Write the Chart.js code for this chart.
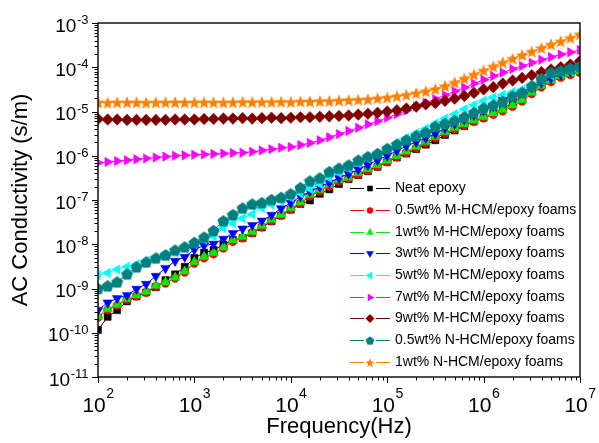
<!DOCTYPE html>
<html>
<head>
<meta charset="utf-8">
<script src="https://cdn.jsdelivr.net/npm/chart.js@4.4.1/dist/chart.umd.min.js"></script>
<style>
  html, body { margin: 0; padding: 0; background: #fff; }
  #wrap { position: relative; width: 599px; height: 443px; }
</style>
</head>
<body>
<div id="wrap"><canvas id="chart"></canvas></div>
<script>
// frequency (Hz), 10 points per decade
const freq = [
  1e2, 1.26e2, 1.58e2, 2e2, 2.51e2, 3.16e2, 3.98e2, 5.01e2, 6.31e2, 7.94e2,
  1e3, 1.26e3, 1.58e3, 2e3, 2.51e3, 3.16e3, 3.98e3, 5.01e3, 6.31e3, 7.94e3,
  1e4, 1.26e4, 1.58e4, 2e4, 2.51e4, 3.16e4, 3.98e4, 5.01e4, 6.31e4, 7.94e4,
  1e5, 1.26e5, 1.58e5, 2e5, 2.51e5, 3.16e5, 3.98e5, 5.01e5, 6.31e5, 7.94e5,
  1e6, 1.26e6, 1.58e6, 2e6, 2.51e6, 3.16e6, 3.98e6, 5.01e6, 6.31e6, 7.94e6,
  1e7
];

// AC conductivity (s/m)
const neatEpoxy = [
  1.15e-10, 2.29e-10, 3.24e-10, 5.13e-10, 6.61e-10, 8.13e-10, 1.07e-9, 1.55e-9, 2.09e-9, 3.09e-9,
  4.90e-9, 6.46e-9, 7.41e-9, 9.77e-9, 1.26e-8, 1.38e-8, 1.78e-8, 2.40e-8, 3.31e-8, 4.47e-8,
  6.03e-8, 8.13e-8, 9.77e-8, 1.38e-7, 1.74e-7, 2.29e-7, 2.95e-7, 3.63e-7, 4.47e-7, 5.62e-7,
  7.24e-7, 9.12e-7, 1.12e-6, 1.41e-6, 1.78e-6, 2.24e-6, 2.95e-6, 3.72e-6, 4.68e-6, 6.03e-6,
  7.24e-6, 9.12e-6, 1.17e-5, 1.55e-5, 2.14e-5, 2.95e-5, 3.89e-5, 5.01e-5, 6.31e-5, 7.08e-5,
  7.94e-5
];
const mHcm05 = [
  2.24e-10, 3.31e-10, 4.17e-10, 5.62e-10, 6.76e-10, 8.13e-10, 1.12e-9, 1.32e-9, 1.70e-9, 2.34e-9,
  3.72e-9, 4.90e-9, 6.03e-9, 8.13e-9, 1.15e-8, 1.38e-8, 1.82e-8, 2.45e-8, 3.39e-8, 4.47e-8,
  6.17e-8, 8.32e-8, 1.23e-7, 1.58e-7, 2.04e-7, 2.63e-7, 3.09e-7, 3.80e-7, 4.68e-7, 5.75e-7,
  7.24e-7, 9.33e-7, 1.17e-6, 1.51e-6, 1.95e-6, 2.51e-6, 3.24e-6, 3.98e-6, 4.90e-6, 5.89e-6,
  7.08e-6, 8.51e-6, 1.02e-5, 1.29e-5, 1.70e-5, 2.51e-5, 3.55e-5, 4.68e-5, 5.89e-5, 6.76e-5,
  7.59e-5
];
const mHcm1 = [
  2.34e-10, 3.47e-10, 4.37e-10, 5.89e-10, 7.08e-10, 8.51e-10, 1.17e-9, 1.38e-9, 1.78e-9, 2.45e-9,
  3.98e-9, 5.25e-9, 6.46e-9, 8.51e-9, 1.23e-8, 1.48e-8, 1.91e-8, 2.63e-8, 3.63e-8, 4.68e-8,
  6.61e-8, 8.91e-8, 1.32e-7, 1.70e-7, 2.19e-7, 2.82e-7, 3.24e-7, 4.07e-7, 5.01e-7, 6.17e-7,
  7.76e-7, 1.00e-6, 1.26e-6, 1.62e-6, 2.09e-6, 2.69e-6, 3.47e-6, 4.27e-6, 5.25e-6, 6.31e-6,
  7.59e-6, 9.12e-6, 1.10e-5, 1.38e-5, 1.82e-5, 2.69e-5, 3.80e-5, 5.01e-5, 6.31e-5, 7.24e-5,
  8.13e-5
];
const mHcm3 = [
  3.24e-10, 4.79e-10, 6.03e-10, 7.08e-10, 9.77e-10, 1.26e-9, 1.91e-9, 2.88e-9, 4.17e-9, 5.13e-9,
  7.59e-9, 9.33e-9, 1.02e-8, 1.32e-8, 1.78e-8, 2.24e-8, 2.69e-8, 3.39e-8, 4.57e-8, 6.46e-8,
  8.51e-8, 1.20e-7, 1.55e-7, 2.00e-7, 2.45e-7, 3.16e-7, 3.89e-7, 4.90e-7, 6.17e-7, 7.94e-7,
  1.00e-6, 1.29e-6, 1.66e-6, 2.04e-6, 2.51e-6, 3.16e-6, 4.17e-6, 5.25e-6, 6.61e-6, 8.32e-6,
  1.05e-5, 1.32e-5, 1.82e-5, 2.29e-5, 2.75e-5, 3.47e-5, 4.47e-5, 5.62e-5, 6.92e-5, 7.94e-5,
  8.91e-5
];
const mHcm5 = [
  2.00e-9, 2.24e-9, 2.69e-9, 3.09e-9, 3.55e-9, 4.17e-9, 4.90e-9, 5.75e-9, 6.76e-9, 8.32e-9,
  1.00e-8, 1.26e-8, 1.51e-8, 2.34e-8, 3.02e-8, 3.89e-8, 4.79e-8, 6.61e-8, 7.94e-8, 9.55e-8,
  1.15e-7, 1.41e-7, 1.78e-7, 2.29e-7, 3.16e-7, 4.07e-7, 5.13e-7, 6.76e-7, 8.71e-7, 1.10e-6,
  1.41e-6, 1.95e-6, 2.51e-6, 3.24e-6, 4.07e-6, 5.37e-6, 6.92e-6, 8.71e-6, 1.12e-5, 1.41e-5,
  1.74e-5, 2.09e-5, 2.40e-5, 2.75e-5, 3.16e-5, 3.80e-5, 5.01e-5, 6.61e-5, 7.59e-5, 8.32e-5,
  8.91e-5
];
const mHcm7 = [
  6.92e-7, 7.24e-7, 7.59e-7, 7.94e-7, 8.32e-7, 8.71e-7, 9.12e-7, 9.55e-7, 1.00e-6, 1.02e-6,
  1.05e-6, 1.07e-6, 1.10e-6, 1.12e-6, 1.15e-6, 1.17e-6, 1.23e-6, 1.32e-6, 1.41e-6, 1.51e-6,
  1.58e-6, 1.74e-6, 1.95e-6, 2.24e-6, 2.63e-6, 3.09e-6, 3.63e-6, 4.27e-6, 5.13e-6, 6.03e-6,
  7.24e-6, 8.71e-6, 1.05e-5, 1.29e-5, 1.58e-5, 1.91e-5, 2.34e-5, 2.88e-5, 3.47e-5, 4.27e-5,
  5.25e-5, 6.31e-5, 7.59e-5, 9.12e-5, 1.07e-4, 1.26e-4, 1.48e-4, 1.70e-4, 1.95e-4, 2.19e-4,
  2.45e-4
];
const mHcm9 = [
  6.76e-6, 6.61e-6, 6.61e-6, 6.46e-6, 6.46e-6, 6.46e-6, 6.46e-6, 6.46e-6, 6.61e-6, 6.61e-6,
  6.61e-6, 6.76e-6, 6.76e-6, 6.92e-6, 6.92e-6, 7.08e-6, 6.92e-6, 7.08e-6, 7.24e-6, 7.08e-6,
  7.24e-6, 7.41e-6, 7.41e-6, 7.59e-6, 7.76e-6, 7.94e-6, 8.13e-6, 8.51e-6, 8.91e-6, 9.33e-6,
  1.00e-5, 1.07e-5, 1.17e-5, 1.29e-5, 1.45e-5, 1.55e-5, 1.74e-5, 1.95e-5, 2.24e-5, 2.63e-5,
  3.16e-5, 3.55e-5, 4.27e-5, 5.01e-5, 5.75e-5, 6.61e-5, 7.76e-5, 8.91e-5, 1.00e-4, 1.15e-4,
  1.38e-4
];
const nHcm05 = [
  1.00e-9, 1.15e-9, 1.41e-9, 2.14e-9, 3.09e-9, 3.98e-9, 4.90e-9, 5.75e-9, 7.41e-9, 8.71e-9,
  1.10e-8, 1.45e-8, 2.04e-8, 3.39e-8, 4.68e-8, 6.61e-8, 8.13e-8, 8.71e-8, 1.02e-7, 1.15e-7,
  1.38e-7, 1.91e-7, 2.69e-7, 3.16e-7, 4.37e-7, 5.25e-7, 6.17e-7, 7.94e-7, 9.55e-7, 1.12e-6,
  1.45e-6, 1.82e-6, 2.29e-6, 2.82e-6, 3.39e-6, 4.57e-6, 5.37e-6, 6.31e-6, 7.59e-6, 9.55e-6,
  1.20e-5, 1.41e-5, 1.70e-5, 2.24e-5, 2.69e-5, 3.80e-5, 5.50e-5, 7.59e-5, 8.32e-5, 9.55e-5,
  1.05e-4
];
const nHcm1 = [
  1.62e-5, 1.60e-5, 1.62e-5, 1.63e-5, 1.62e-5, 1.60e-5, 1.62e-5, 1.62e-5, 1.63e-5, 1.62e-5,
  1.62e-5, 1.63e-5, 1.62e-5, 1.62e-5, 1.63e-5, 1.66e-5, 1.65e-5, 1.66e-5, 1.66e-5, 1.67e-5,
  1.66e-5, 1.70e-5, 1.70e-5, 1.74e-5, 1.74e-5, 1.78e-5, 1.82e-5, 1.86e-5, 1.91e-5, 2.00e-5,
  2.09e-5, 2.24e-5, 2.40e-5, 2.63e-5, 2.88e-5, 3.24e-5, 3.80e-5, 4.57e-5, 5.62e-5, 6.92e-5,
  8.51e-5, 1.05e-4, 1.29e-4, 1.58e-4, 1.91e-4, 2.29e-4, 2.75e-4, 3.31e-4, 3.89e-4, 4.68e-4,
  5.62e-4
];

const seriesLabels = [
  'Neat epoxy',
  '0.5wt% M-HCM/epoxy foams',
  '1wt% M-HCM/epoxy foams',
  '3wt% M-HCM/epoxy foams',
  '5wt% M-HCM/epoxy foams',
  '7wt% M-HCM/epoxy foams',
  '9wt% M-HCM/epoxy foams',
  '0.5wt% N-HCM/epoxy foams',
  '1wt% N-HCM/epoxy foams'
];
const seriesValues = [neatEpoxy, mHcm05, mHcm1, mHcm3, mHcm5, mHcm7, mHcm9, nHcm05, nHcm1];

// tick decades (exponents) and minor steps
const xDecades = [2, 3, 4, 5, 6, 7];
const yDecades = [-11, -10, -9, -8, -7, -6, -5, -4, -3];
const minorSteps = [2, 3, 4, 5, 6, 7, 8, 9];

const FONT = "'Liberation Sans', Arial, sans-serif";
const colors = ['#000000', '#ff0000', '#00ee00', '#0000ff', '#00ffff', '#ff00ff', '#800000', '#008080', '#ff8000'];

function shapeCanvas(size, color, pts) {
  const c = document.createElement('canvas');
  c.width = size; c.height = size;
  const g = c.getContext('2d');
  g.fillStyle = color;
  g.beginPath();
  pts.forEach(([px, py], k) => k ? g.lineTo(px, py) : g.moveTo(px, py));
  g.closePath();
  g.fill();
  return c;
}
function pentagon(color) {
  const s = 13, r = 6.3, pts = [];
  for (let k = 0; k < 5; k++) {
    const a = -Math.PI / 2 + k * 2 * Math.PI / 5;
    pts.push([s / 2 + r * Math.cos(a), s / 2 + 0.6 + r * Math.sin(a)]);
  }
  return shapeCanvas(s, color, pts);
}
function star(color) {
  const s = 14, ro = 6.8, ri = 2.9, pts = [];
  for (let k = 0; k < 10; k++) {
    const a = -Math.PI / 2 + k * Math.PI / 5;
    const r = k % 2 ? ri : ro;
    pts.push([s / 2 + r * Math.cos(a), s / 2 + 0.8 + r * Math.sin(a)]);
  }
  return shapeCanvas(s, color, pts);
}

const markers = [
  { style: 'rect', radius: 5, rotation: 0 },
  { style: 'circle', radius: 4.2, rotation: 0 },
  { style: 'triangle', radius: 5.5, rotation: 0 },
  { style: 'triangle', radius: 5.5, rotation: 180 },
  { style: 'triangle', radius: 5.5, rotation: 270 },
  { style: 'triangle', radius: 5.5, rotation: 90 },
  { style: 'rectRot', radius: 5.8, rotation: 0 },
  { style: pentagon(colors[7]), radius: 6, rotation: 0 },
  { style: star(colors[8]), radius: 6, rotation: 0 }
];

const datasets = seriesValues.map((vals, i) => ({
  label: seriesLabels[i],
  data: vals.map((v, k) => ({ x: freq[k], y: v })),
  borderColor: colors[i],
  backgroundColor: colors[i],
  borderWidth: 1,
  pointStyle: markers[i].style,
  pointRadius: markers[i].radius,
  pointRotation: markers[i].rotation,
  pointBackgroundColor: colors[i],
  pointBorderColor: colors[i],
  pointBorderWidth: 0.5,
  order: seriesValues.length - i,
  clip: 0
}));

function drawPow(ctx, exp, x, yBase, yExp, baseSize, expSize, align) {
  ctx.font = `${baseSize}px ${FONT}`;
  const wb = ctx.measureText('10').width;
  ctx.font = `${expSize}px ${FONT}`;
  const we = ctx.measureText(String(exp)).width;
  const start = align === 'right' ? x - wb - we : x - (wb + we) / 2;
  ctx.textAlign = 'left';
  ctx.textBaseline = 'alphabetic';
  ctx.font = `${baseSize}px ${FONT}`;
  ctx.fillText('10', start, yBase);
  ctx.font = `${expSize}px ${FONT}`;
  ctx.fillText(String(exp), start + wb + 0.5, yExp);
}

const axisDecor = {
  id: 'axisDecor',
  afterDatasetsDraw(chart) {
    const { ctx, chartArea: a, scales: { x, y } } = chart;
    ctx.save();
    ctx.strokeStyle = '#000';
    ctx.fillStyle = '#000';
    ctx.lineWidth = 1.4;
    ctx.strokeRect(a.left, a.top, a.right - a.left, a.bottom - a.top);
    ctx.lineWidth = 1;
    ctx.beginPath();
    xDecades.forEach((e, k) => {
      const px = Math.round(x.getPixelForValue(Math.pow(10, e))) + 0.5;
      ctx.moveTo(px, a.bottom); ctx.lineTo(px, a.bottom + 6);
      if (k < xDecades.length - 1) minorSteps.forEach(m => {
        const mx = Math.round(x.getPixelForValue(m * Math.pow(10, e))) + 0.5;
        ctx.moveTo(mx, a.bottom); ctx.lineTo(mx, a.bottom + 3.5);
      });
    });
    yDecades.forEach((e, k) => {
      const py = Math.round(y.getPixelForValue(Math.pow(10, e))) + 0.5;
      ctx.moveTo(a.left, py); ctx.lineTo(a.left - 6, py);
      if (k < yDecades.length - 1) minorSteps.forEach(m => {
        const my = Math.round(y.getPixelForValue(m * Math.pow(10, e))) + 0.5;
        ctx.moveTo(a.left, my); ctx.lineTo(a.left - 3.5, my);
      });
    });
    ctx.stroke();

    xDecades.forEach(e => {
      const px = x.getPixelForValue(Math.pow(10, e));
      drawPow(ctx, e, px, a.bottom + 35, a.bottom + 21, 21, 14, 'center');
    });
    yDecades.forEach(e => {
      const py = y.getPixelForValue(Math.pow(10, e));
      drawPow(ctx, e, a.left - 10, py + 8.5, py + 1, 19, 13, 'right');
    });
    ctx.restore();
  }
};

// legend drawn inside the plot, lines broken around a smaller marker
const legendBox = {
  id: 'legendBox',
  afterDraw(chart) {
    const { ctx } = chart;
    const x0 = 350, y0 = 188.3, dy = 21.67, k = 0.72;
    ctx.save();
    chart.data.datasets.forEach((ds, i) => {
      const yy = Math.round(y0 + i * dy) + 0.5;
      ctx.strokeStyle = ds.borderColor;
      ctx.lineWidth = 1;
      ctx.beginPath();
      ctx.moveTo(x0, yy); ctx.lineTo(x0 + 14, yy);
      ctx.moveTo(x0 + 26, yy); ctx.lineTo(x0 + 40, yy);
      ctx.stroke();
      const st = ds.pointStyle;
      if (st instanceof HTMLCanvasElement) {
        const w = st.width * k, h = st.height * k;
        ctx.drawImage(st, x0 + 20 - w / 2, yy - h / 2, w, h);
      } else {
        ctx.fillStyle = ds.pointBackgroundColor;
        ctx.strokeStyle = ds.pointBorderColor;
        ctx.lineWidth = 0.5;
        Chart.helpers.drawPoint(ctx, {
          pointStyle: st, rotation: ds.pointRotation,
          radius: ds.pointRadius * k, borderWidth: 0.5
        }, x0 + 20, yy);
      }
      ctx.fillStyle = '#000';
      ctx.font = `14px ${FONT}`;
      ctx.textAlign = 'left';
      ctx.textBaseline = 'middle';
      ctx.fillText(ds.label, x0 + 45, yy);
    });
    ctx.restore();
  }
};

new Chart(document.getElementById('chart'), {
  type: 'line',
  data: { datasets },
  options: {
    responsive: true,
    maintainAspectRatio: false,
    animation: false,
    layout: { padding: { top: 23, right: 19, left: 0, bottom: 0 } },
    plugins: { legend: { display: false }, tooltip: { enabled: false } },
    scales: {
      x: {
        type: 'logarithmic', min: 1e2, max: 1e7,
        grid: { display: false }, border: { display: false },
        ticks: { display: false },
        afterFit: s => { s.height = 66; },
        title: { display: true, text: 'Frequency(Hz)', color: '#000', font: { family: FONT, size: 22 }, padding: { top: 0, bottom: 3 } }
      },
      y: {
        type: 'logarithmic', min: 1e-11, max: 1e-3,
        grid: { display: false }, border: { display: false },
        ticks: { display: false },
        afterFit: s => { s.width = 98; },
        title: { display: true, text: 'AC Conductivity (s/m)', color: '#000', font: { family: FONT, size: 22 }, padding: { top: 8.2, bottom: 0 } }
      }
    }
  },
  plugins: [axisDecor, legendBox]
});
</script>
</body>
</html>
